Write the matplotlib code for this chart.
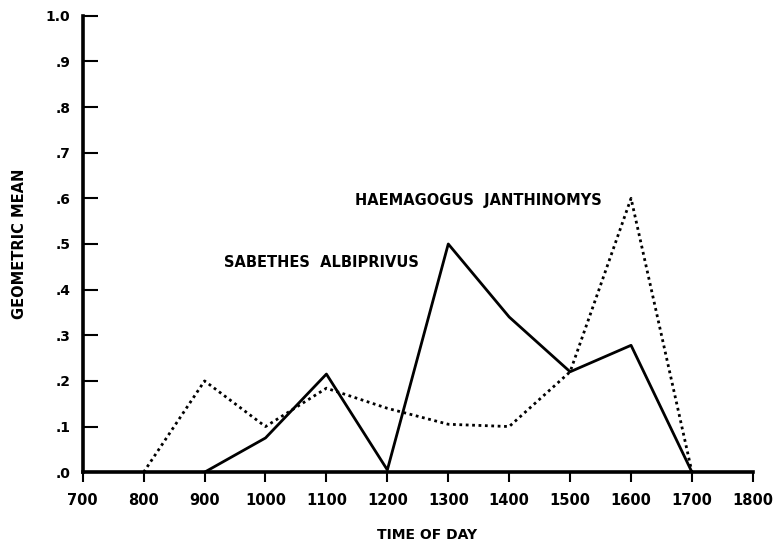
import numpy as np
import matplotlib
matplotlib.use("Agg")
import matplotlib.pyplot as plt

# time of day (hours) and geometric means
sab_time = [900, 1000, 1100, 1200, 1300, 1400, 1500, 1600, 1700]
sab_mean = [0.0, 0.075, 0.215, 0.005, 0.50, 0.34, 0.22, 0.278, 0.0]

hae_time = [800, 900, 1000, 1100, 1200, 1300, 1400, 1500, 1600, 1700]
hae_mean = [0.0, 0.20, 0.10, 0.184, 0.14, 0.105, 0.10, 0.22, 0.60, 0.0]

xticks = list(range(700, 1900, 100))
yticks = [i / 10 for i in range(11)]
ylabels = [".0", ".1", ".2", ".3", ".4", ".5", ".6", ".7", ".8", ".9", "1.0"]

fig = plt.figure(figsize=(7.73, 5.44), dpi=100)
ax = fig.add_axes([0.107, 0.132, 0.867, 0.839])

ax.plot(hae_time, hae_mean, color="black", lw=2.0, ls=(0, (1, 1.3)))
ax.plot(sab_time, sab_mean, color="black", lw=2.0)

ax.set_xlim(700, 1800)
ax.set_ylim(0, 1.0)

for s in ["top", "right"]:
    ax.spines[s].set_visible(False)
for s in ["left", "bottom"]:
    ax.spines[s].set_linewidth(2.6)

ax.set_xticks(xticks)
ax.set_xticklabels([str(t) for t in xticks], fontsize=10.5, fontweight="bold")
ax.set_yticks(yticks)
ax.set_yticklabels(ylabels, fontsize=10, fontweight="bold")
ax.tick_params(axis="x", direction="out", length=7, width=1.5, pad=8)
ax.tick_params(axis="y", direction="in", length=11, width=1.5, pad=9)

fig.text(427 / 773, 1 - 535 / 544, "TIME OF DAY", ha="center", va="center",
         fontsize=10, fontweight="bold")
ax.set_ylabel("GEOMETRIC MEAN", fontsize=10.5, fontweight="bold")
ax.yaxis.set_label_coords(-0.083, 0.5)

ax.text(1552, 0.596, "HAEMAGOGUS  JANTHINOMYS", ha="right", va="center",
        fontsize=10.5, fontweight="bold")
ax.text(1252, 0.46, "SABETHES  ALBIPRIVUS", ha="right", va="center",
        fontsize=10.5, fontweight="bold")

fig.savefig("out.png", dpi=100)
